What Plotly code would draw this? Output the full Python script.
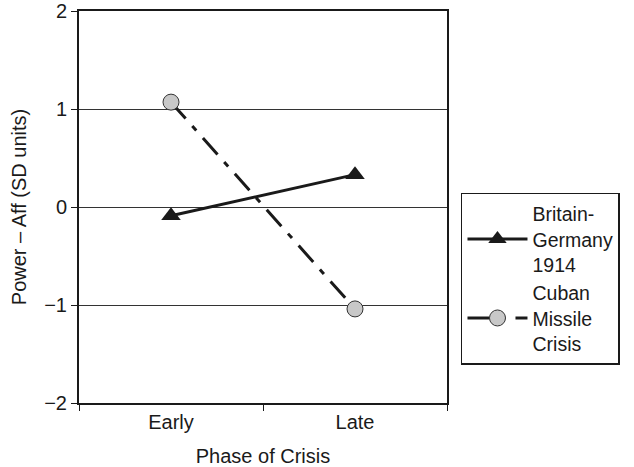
import plotly.graph_objects as go

phases = ["Early", "Late"]
britain_germany = [-0.09, 0.33]
cuban_missile = [1.07, -1.04]
y_ticks = [-2, -1, 0, 1, 2]

FONT = "Arial, Liberation Sans, Helvetica, sans-serif"
FS = 20

fig = go.Figure()
fig.add_trace(go.Scatter(
    x=phases, y=britain_germany, name="Britain-<br>Germany<br>1914",
    mode="lines+markers",
    line=dict(color="#1a1a1a", width=3),
    marker=dict(symbol="triangle-up", size=17, color="#1a1a1a"),
))
fig.add_trace(go.Scatter(
    x=phases, y=cuban_missile, name="Cuban<br>Missile<br>Crisis",
    mode="lines+markers",
    line=dict(color="#1a1a1a", width=3, dash="22px,10px,6px,10px"),
    marker=dict(symbol="circle", size=16, color="#c8c8c8",
                line=dict(color="#333333", width=1)),
))

fig.update_layout(
    width=634, height=467,
    margin=dict(l=79, r=187, t=11, b=64, autoexpand=False),
    paper_bgcolor="white", plot_bgcolor="white",
    font=dict(family=FONT, size=FS, color="#1a1a1a"),
    showlegend=True,
    legend=dict(
        x=1.038, y=0.536, xanchor="left", yanchor="top",
        bordercolor="#1a1a1a", borderwidth=1.5,
        font=dict(family=FONT, size=19.5, color="#1a1a1a"), tracegroupgap=4,
        itemwidth=60,
    ),
    xaxis=dict(
        type="category", range=[-0.5, 1.5], automargin=False,
        showline=True, linecolor="#1a1a1a", linewidth=2, mirror=True,
        ticks="outside", tickson="boundaries", ticklen=6, tickcolor="#1a1a1a",
        tickfont=dict(family=FONT, size=FS, color="#1a1a1a"),
        showgrid=False, zeroline=False,
        title=dict(text="Phase of Crisis", standoff=17,
                   font=dict(family=FONT, size=FS, color="#1a1a1a")),
    ),
    yaxis=dict(
        range=[-2, 2], tickvals=y_ticks, automargin=False,
        showline=True, linecolor="#1a1a1a", linewidth=2, mirror=True,
        ticks="outside", ticklen=6, tickcolor="#1a1a1a",
        tickfont=dict(family=FONT, size=FS, color="#1a1a1a"),
        showgrid=True, gridcolor="#333333", gridwidth=1,
        zeroline=False,
        title=dict(text="Power – Aff (SD units)", standoff=12,
                   font=dict(family=FONT, size=FS, color="#1a1a1a")),
    ),
)

fig.write_html(
    "out.html",
    config={"displayModeBar": False},
    post_script="document.body.style.margin='0';document.body.style.overflow='hidden';",
)
